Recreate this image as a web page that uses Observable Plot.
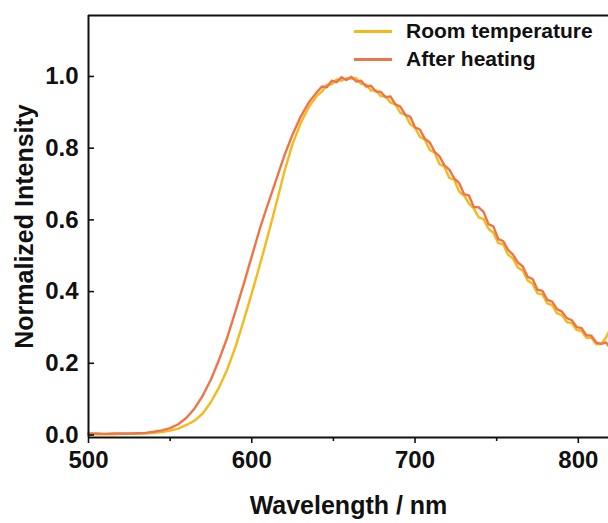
<!DOCTYPE html>
<html><head><meta charset="utf-8">
<script src="https://cdn.jsdelivr.net/npm/d3@7"></script>
<script src="https://cdn.jsdelivr.net/npm/@observablehq/plot@0.6"></script>
<style>
body{margin:0;background:#fff;}
#wrap{position:relative;width:608px;height:523px;overflow:hidden;background:#fff;}
.leg{position:absolute;left:354px;font:bold 21px "Liberation Sans",Arial,sans-serif;color:#111;display:flex;align-items:center;height:28px;white-space:nowrap;}
.leg span.sw{display:inline-block;width:38px;height:3px;margin-right:14px;}
</style>
</head><body>
<div id="wrap"></div>
<script>
const wavelength = [
  500,505,510,515,520,525,530,535,540,545,550,555,560,565,570,575,580,585,590,595,600,605,610,615,620,625,630,635,640,
  643,646,649,652,655,658,661,664,667,670,673,676,679,682,685,688,691,694,697,700,703,706,709,712,715,718,721,724,727,730,
  733,736,739,742,745,748,751,754,757,760,763,766,769,772,775,778,781,784,787,790,793,796,799,802,805,808,811,814,817,819
];
const roomTemperature = [
  0.002,0.002,0.002,0.002,0.003,0.003,0.003,0.004,0.006,0.008,0.012,0.018,0.028,0.040,0.060,0.092,0.133,0.183,0.245,0.318,0.395,0.475,0.558,0.645,0.735,0.812,0.870,0.915,0.947,
  0.958,0.977,0.978,0.992,0.988,0.995,0.994,0.995,0.979,0.978,0.961,0.962,0.945,0.944,0.927,0.922,0.898,0.894,0.867,0.857,0.831,0.824,0.795,0.787,0.755,0.748,0.717,0.712,0.679,0.668,
  0.645,0.632,0.607,0.602,0.575,0.564,0.535,0.532,0.503,0.492,0.467,0.458,0.431,0.422,0.395,0.392,0.367,0.362,0.339,0.334,0.315,0.312,0.293,0.290,0.271,0.272,0.253,0.254,0.272,0.290
];
const afterHeating = [
  0.004,0.004,0.003,0.004,0.004,0.004,0.005,0.006,0.009,0.013,0.019,0.030,0.048,0.074,0.110,0.155,0.210,0.272,0.345,0.420,0.498,0.576,0.645,0.712,0.780,0.838,0.888,0.928,0.957,
  0.972,0.970,0.988,0.984,0.998,0.990,0.999,0.986,0.988,0.972,0.974,0.958,0.957,0.942,0.944,0.922,0.916,0.893,0.888,0.858,0.852,0.826,0.816,0.790,0.777,0.752,0.740,0.716,0.703,0.672,
  0.668,0.636,0.635,0.622,0.588,0.582,0.546,0.541,0.516,0.503,0.481,0.470,0.441,0.435,0.405,0.402,0.377,0.372,0.351,0.344,0.326,0.320,0.301,0.298,0.278,0.277,0.258,0.254,0.258,0.246
];
const seriesNames = ["Room temperature", "After heating"];
const seriesColors = ["#F6B81B", "#EE7547"];
const xTicks = [500, 600, 700, 800];
const xMinorTicks = [550, 650, 750];
const yTicks = [0, 0.2, 0.4, 0.6, 0.8, 1.0];
const xDomain = [500, 818.5];
const yDomain = [-0.007, 1.17];

const rows = [];
[roomTemperature, afterHeating].forEach((vals, k) => {
  vals.forEach((v, i) => rows.push({series: seriesNames[k], x: wavelength[i], y: v}));
});

const ink = "#111";
const chart = Plot.plot({
  width: 608, height: 523,
  marginLeft: 88, marginRight: 0, marginTop: 15, marginBottom: 86,
  style: {fontFamily: '"Liberation Sans", Arial, sans-serif', fontWeight: "bold", color: ink, background: "#fff"},
  x: {domain: xDomain},
  y: {domain: yDomain},
  color: {domain: seriesNames, range: seriesColors},
  marks: [
    Plot.line(rows.filter(d => d.series === seriesNames[0]), {x: "x", y: "y", stroke: seriesColors[0], strokeWidth: 2.4}),
    Plot.line(rows.filter(d => d.series === seriesNames[1]), {x: "x", y: "y", stroke: seriesColors[1], strokeWidth: 2.4}),
    Plot.axisX(xTicks, {tickSize: 6, tickPadding: 7, fontSize: 24, strokeWidth: 1.6, label: null}),
    Plot.axisX(xMinorTicks, {tickSize: 4, tickFormat: () => "", strokeWidth: 1.6, label: null}),
    Plot.axisX({ticks: [], tickSize: 0, label: "Wavelength / nm", labelAnchor: "center", labelArrow: "none", labelOffset: 76, fontSize: 25}),
    Plot.axisY(yTicks, {tickSize: 0, tickPadding: 10, fontSize: 24, tickFormat: d3.format(".1f"), label: null}),
    Plot.axisY({ticks: [], tickSize: 0, label: "Normalized Intensity", labelAnchor: "center", labelArrow: "none", labelOffset: 73, fontSize: 25}),
    Plot.tickY(yTicks, {y: d => d, insetRight: 514, stroke: ink, strokeWidth: 1.6}),
    Plot.ruleX([xDomain[0]], {stroke: ink, strokeWidth: 2}),
    Plot.ruleY(yDomain, {stroke: ink, strokeWidth: 2})
  ]
});
const wrap = document.getElementById("wrap");
wrap.appendChild(chart);
seriesNames.forEach((name, k) => {
  const row = document.createElement("div");
  row.className = "leg";
  row.style.top = (17 + k * 28) + "px";
  row.innerHTML = `<span class="sw" style="background:${seriesColors[k]}"></span>${name}`;
  wrap.appendChild(row);
});
</script>
</body></html>
